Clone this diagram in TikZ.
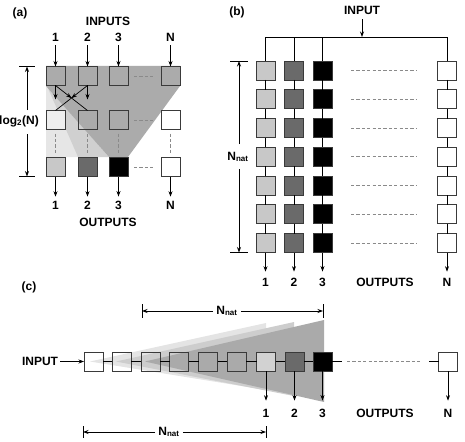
\documentclass[tikz,border=0pt]{standalone}
\usepackage{fontspec}
\setmainfont{Liberation Sans}
\usetikzlibrary{arrows.meta,calc,decorations.markings}
\definecolor{boxc}{HTML}{3A3A3A}
\definecolor{dashc}{HTML}{8A8A8A}
\definecolor{bgA}{HTML}{C8C8C8}
\definecolor{bgB}{HTML}{6A6A6A}
\definecolor{bgC}{HTML}{D2D2D2}
\definecolor{ltA}{HTML}{E6E6E6}
\definecolor{ltB}{HTML}{D0D0D0}
\definecolor{dkA}{HTML}{ABABAB}
\definecolor{shA}{HTML}{E4E4E4}
\definecolor{shB}{HTML}{CDCDCD}
\definecolor{shC}{HTML}{AAAAAA}
\definecolor{midbox}{HTML}{EEEEEE}
\begin{document}
\begin{tikzpicture}[x=1pt,y=-1pt,
  bx/.style={draw=boxc, line width=0.8pt, minimum size=19pt, inner sep=0pt, outer sep=0pt},
  lbl/.style={font=\fontsize{12}{14}\selectfont\bfseries, inner sep=0pt},
  arr/.style={-{Stealth[length=5.5pt,width=4pt]}, line width=0.7pt},
  ln/.style={line width=0.7pt},
  dsh/.style={draw=dashc, line width=0.8pt, dash pattern=on 3.2pt off 2.2pt},
  tickln/.style={line width=0.7pt},
  midarrow/.style={postaction={decorate}, decoration={markings, mark=at position 0.5 with {\arrow{Stealth[length=5.5pt,width=4pt]}}}}]
\useasboundingbox (0,0) rectangle (465,441);

% ================= panel (a) =================
\node[lbl] (alab) at (20,13) {(a)};
\fill[ltA] (46,86) -- (65,86) -- (78,157) -- (46,157) -- cycle;
\fill[ltB] (47,86) -- (78,157) -- (109,157) -- cycle;
\fill[dkA] (46,66) -- (180,66) -- (180,86) -- (128,157) -- (109,157) -- (46,86) -- cycle;

\node[lbl] (aInputs) at (108,21) {INPUTS};
\node[lbl] (aOutputs) at (108,222) {OUTPUTS};

\foreach \n/\x in {1/55.5,2/87.5,3/118.5,N/170.5}{
  \node[bx] (aT\n) at (\x,76) {};
  \node[lbl] (aI\n) at (\x,37) {\n};
  \node[lbl] (aO\n) at (\x,205) {\n};
  \draw[arr] ($(aI\n.south)+(0,4)$) -- (aT\n.north);
}
\node[bx,fill=midbox] (aM1) at (55.5,120) {};
\node[bx] (aM2) at (87.5,120) {};
\node[bx] (aM3) at (118.5,120) {};
\node[bx,fill=white] (aMN) at (170.5,120) {};
\node[bx,fill=bgA] (aB1) at (55.5,167) {};
\node[bx,fill=bgB] (aB2) at (87.5,167) {};
\node[bx,fill=black] (aB3) at (118.5,167) {};
\node[bx,fill=white] (aBN) at (170.5,167) {};

\foreach \n in {1,2,3,N}{
  \draw[arr] (aB\n.south) -- ($(aO\n.north)+(0,-4)$);
  \draw[dsh] ($(aM\n.south)+(0,4)$) -- ($(aB\n.north)+(0,-4)$);
}
\foreach \r in {T,M,B}{
  \draw[dsh] ($(a\r3.east)+(6,0)$) -- ($(a\r N.west)+(-6,0)$);
}
% crossing
\draw[arr] (aT1.south) -- ++(0,14);
\draw[arr] (aT2.south) -- ++(0,14);
\draw[ln,midarrow] (aT1.south) -- (aM2.north);
\draw[ln,midarrow] (aT2.south) -- (aM1.north);

% dimension log2(N)
\coordinate (aD1) at (27,66.5);
\coordinate (aD2) at (27,176.5);
\draw[tickln] ($(aD1)+(-8,0)$) -- ($(aD1)+(8,0)$);
\draw[tickln] ($(aD2)+(-8,0)$) -- ($(aD2)+(8,0)$);
\node[lbl,anchor=east] (aLog) at (39,121) {log\textsubscript{2}(N)};
\coordinate (aG1) at (27,110);
\coordinate (aG2) at (27,134);
\draw[arr] (aG1) -- (aD1);
\draw[arr] (aG2) -- (aD2);

% ================= panel (b) =================
\node[lbl] (blab) at (237,12) {(b)};
\node[lbl] (bINP) at (362,10) {INPUT};
\coordinate (bIn) at (362,37);
\foreach \c/\x/\f in {1/265.5/bgA,2/294/bgB,3/322.5/black,N/447/white}{
  \foreach \k in {0,...,6}{
    \node[bx,fill=\f] (b\c-\k) at (\x,{70.5+28.75*\k}) {};
  }
  \foreach \k in {1,...,6}{
    \pgfmathtruncatemacro\p{\k-1}
    \draw[ln] (b\c-\p.south) -- (b\c-\k.north);
  }
  \node[lbl] (bO\c) at (\x,282) {\c};
  \draw[arr] (b\c-6.south) -- ($(bO\c.north)+(0,-6)$);
}
\draw[ln] (b1-0.north) -- (b1-0.north |- bIn) -- (bN-0.north |- bIn) -- (bN-0.north);
\draw[ln] (b2-0.north) -- (b2-0.north |- bIn);
\draw[ln] (b3-0.north) -- (b3-0.north |- bIn);
\draw[arr] ($(bINP.south)+(0,5)$) -- (bIn);
\foreach \k in {0,...,6}{
  \draw[dsh] ($(b3-\k.east)+(19,0)$) -- ($(bN-\k.west)+(-21,0)$);
}
\node[lbl] (bOutputs) at (385,282) {OUTPUTS};
% dimension N_nat
\coordinate (bD1) at (239,61);
\coordinate (bD2) at (239,252.5);
\draw[tickln] ($(bD1)+(-9,0)$) -- ($(bD1)+(9,0)$);
\draw[tickln] ($(bD2)+(-9,0)$) -- ($(bD2)+(9,0)$);
\node[lbl] (bNat) at (238,157) {N\textsubscript{nat}};
\coordinate (bG1) at (239,144);
\coordinate (bG2) at (239,169);
\draw[arr] (bG1) -- (bD1);
\draw[arr] (bG2) -- (bD2);

% ================= panel (c) =================
\node[lbl] (clab) at (29,287) {(c)};
\fill[shA] (90,361.5) -- (266,323) -- (266,390) -- cycle;
\fill[shB] (116,361.5) -- (294,322) -- (294,396) -- cycle;
\fill[shC] (145,361.5) -- (324,320) -- (324,402) -- cycle;

\foreach \i/\x in {1/93.5,2/121.5,3/150.5,4/179,5/208,6/236.5}{
  \node[bx] (c\i) at (\x,361.5) {};
}
\node[bx,fill=bgC] (c7) at (266,361.5) {};
\node[bx,fill=bgB] (c8) at (294.5,361.5) {};
\node[bx,fill=black] (c9) at (322.5,361.5) {};
\node[bx,fill=white] (cN) at (448,361.5) {};
\foreach \i in {1,...,8}{
  \pgfmathtruncatemacro\j{\i+1}
  \draw[ln] (c\i.east) -- (c\j.west);
}
\coordinate (cg1) at (342,361.5);
\coordinate (cg2) at (347,361.5);
\coordinate (cg3) at (422,361.5);
\coordinate (cg4) at (429,361.5);
\draw[ln] (c9.east) -- (cg1);
\draw[dsh] (cg2) -- (cg3);
\draw[ln] (cg4) -- (cN.west);

\node[lbl] (cINP) at (40,361.5) {INPUT};
\draw[arr] ($(cINP.east)+(2,0)$) -- (c1.west);

\node[lbl] (cO1) at (266,413) {1};
\node[lbl] (cO2) at (294.5,413) {2};
\node[lbl] (cO3) at (322.5,413) {3};
\node[lbl] (cON) at (448,413) {N};
\node[lbl] (cOutputs) at (385,413) {OUTPUTS};
\draw[arr] (c7.south) -- ($(cO1.north)+(0,-8)$);
\draw[arr] (c8.south) -- ($(cO2.north)+(0,-8)$);
\draw[arr] (c9.south) -- ($(cO3.north)+(0,-8)$);
\draw[arr] (cN.south) -- ($(cON.north)+(0,-8)$);

% top dimension
\coordinate (cT1) at (142,311);
\coordinate (cT2) at (323,311);
\draw[tickln] ($(cT1)+(0,-7)$) -- ($(cT1)+(0,7)$);
\draw[tickln] ($(cT2)+(0,-7)$) -- ($(cT2)+(0,7)$);
\node[lbl] (cTN) at (227,311) {N\textsubscript{nat}};
\draw[arr] ($(cTN.west)+(-3,0)$) -- (cT1);
\draw[arr] ($(cTN.east)+(3,0)$) -- (cT2);

% bottom dimension
\coordinate (cB1) at (83,432);
\coordinate (cB2) at (266,432);
\draw[tickln] ($(cB1)+(0,-6)$) -- ($(cB1)+(0,6)$);
\draw[tickln] ($(cB2)+(0,-6)$) -- ($(cB2)+(0,6)$);
\node[lbl] (cBN) at (169,432) {N\textsubscript{nat}};
\draw[arr] ($(cBN.west)+(-3,0)$) -- (cB1);
\draw[arr] ($(cBN.east)+(3,0)$) -- (cB2);
\end{tikzpicture}
\end{document}
